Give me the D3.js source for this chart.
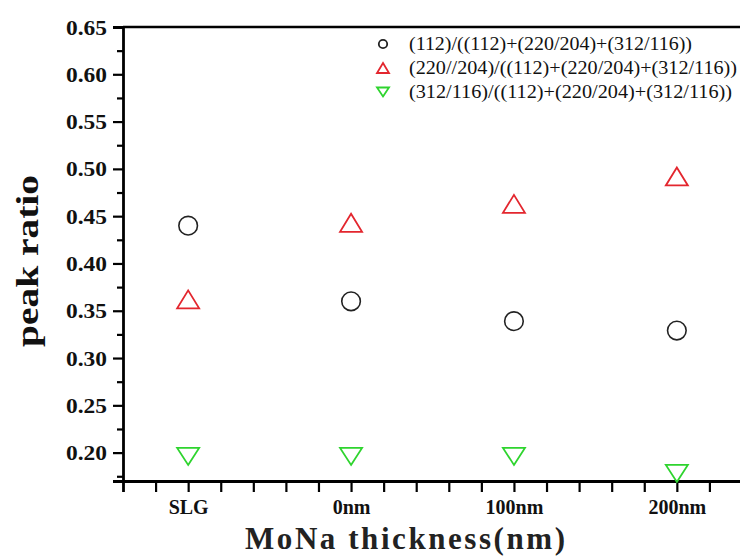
<!DOCTYPE html>
<html>
<head>
<meta charset="utf-8">
<script src="https://cdn.jsdelivr.net/npm/d3@7/dist/d3.min.js"></script>
<style>
html,body{margin:0;padding:0;background:#fff;}
svg{display:block;}
</style>
</head>
<body>
<svg id="chart" width="740" height="560"></svg>
<script>
const categories = ["SLG", "0nm", "100nm", "200nm"];
const ratio112 = [0.440, 0.360, 0.339, 0.329];
const ratio220 = [0.362, 0.443, 0.463, 0.492];
const ratio312 = [0.196, 0.196, 0.196, 0.178];
const legendLabels = [
  "(112)/((112)+(220/204)+(312/116))",
  "(220//204)/((112)+(220/204)+(312/116))",
  "(312/116)/((112)+(220/204)+(312/116))"
];
const yTicks = [0.20, 0.25, 0.30, 0.35, 0.40, 0.45, 0.50, 0.55, 0.60, 0.65];
const yMinorTicks = [0.175, 0.225, 0.275, 0.325, 0.375, 0.425, 0.475, 0.525, 0.575, 0.625];
const xMinorTicks = [0.8, 1.2, 1.4, 1.6, 1.8, 2.2, 2.4, 2.6, 2.8, 3.2, 3.4, 3.6, 3.8, 4.2, 4.4];
const xTitle = "MoNa thickness(nm)";
const yTitle = "peak ratio";

const svg = d3.select("#chart");
const L = 123, R = 742, T = 27, B = 481;
const x = d3.scaleLinear().domain([0.6, 4.4]).range([L, R]);
const y = d3.scaleLinear().domain([0.17, 0.65]).range([B, T]);
const font = "'Liberation Serif','Times New Roman',serif";
const red = "#e3262e", green = "#2ed42e";

// frame top / right
svg.append("line").attr("x1", L).attr("x2", R).attr("y1", T).attr("y2", T)
  .attr("stroke", "#000").attr("stroke-width", 2.5);
svg.append("line").attr("x1", R).attr("x2", R).attr("y1", T).attr("y2", B)
  .attr("stroke", "#000").attr("stroke-width", 2.5);

// y axis
const yAx = svg.append("g").attr("transform", `translate(${L},0)`)
  .call(d3.axisLeft(y).tickValues(yTicks).tickFormat(d3.format(".2f")).tickSize(10).tickPadding(6));
svg.append("g").attr("transform", `translate(${L},0)`)
  .call(d3.axisLeft(y).tickValues(yMinorTicks).tickFormat("").tickSize(6))
  .call(g => g.select(".domain").remove());

// x axis
const catIdx = categories.map((c, i) => i + 1);
const xAx = svg.append("g").attr("transform", `translate(0,${B})`)
  .call(d3.axisBottom(x).tickValues(catIdx).tickFormat(d => categories[d - 1]).tickSize(11).tickPadding(8));
svg.append("g").attr("transform", `translate(0,${B})`)
  .call(d3.axisBottom(x).tickValues(xMinorTicks).tickFormat("").tickSize(11))
  .call(g => g.select(".domain").remove());

svg.selectAll(".domain").attr("stroke-width", 2.8).attr("stroke", "#000");
svg.selectAll(".tick line").attr("stroke-width", 2.2).attr("stroke", "#000");
yAx.selectAll(".tick text").attr("font-family", font).attr("font-weight", "bold")
  .attr("font-size", 22).attr("fill", "#111")
  .attr("textLength", 41).attr("lengthAdjust", "spacingAndGlyphs");
xAx.selectAll(".tick text").attr("font-family", font).attr("font-weight", "bold")
  .attr("font-size", 20).attr("fill", "#111");

// titles
svg.append("text").attr("x", 405).attr("y", 549).attr("text-anchor", "middle")
  .attr("font-family", font).attr("font-weight", "bold").attr("font-size", 31)
  .attr("textLength", 320).attr("lengthAdjust", "spacing").attr("fill", "#222")
  .text(xTitle);
svg.append("text").attr("transform", "translate(38,261) rotate(-90)").attr("text-anchor", "middle")
  .attr("font-family", font).attr("font-weight", "bold").attr("font-size", 32)
  .attr("textLength", 172).attr("lengthAdjust", "spacingAndGlyphs").attr("fill", "#111")
  .text(yTitle);

// markers
const up = (w, h) => `M0,${-h/2}L${w/2},${h/2}L${-w/2},${h/2}Z`;
const down = (w, h) => `M0,${h/2}L${w/2},${-h/2}L${-w/2},${-h/2}Z`;
const plot = svg.append("g");
plot.selectAll(".c112").data(ratio112).join("circle")
  .attr("cx", (d, i) => x(i + 1)).attr("cy", d => y(d)).attr("r", 9.3)
  .attr("fill", "none").attr("stroke", "#222").attr("stroke-width", 1.6);
plot.selectAll(".t220").data(ratio220).join("path")
  .attr("transform", (d, i) => `translate(${x(i + 1)},${y(d)})`).attr("d", up(22, 18))
  .attr("fill", "none").attr("stroke", red).attr("stroke-width", 1.8);
plot.selectAll(".t312").data(ratio312).join("path")
  .attr("transform", (d, i) => `translate(${x(i + 1)},${y(d)})`).attr("d", down(22, 17))
  .attr("fill", "none").attr("stroke", green).attr("stroke-width", 1.8);

// legend
const legY = [44, 68, 92];
const lg = svg.append("g");
lg.append("circle").attr("cx", 383).attr("cy", legY[0]).attr("r", 4.2)
  .attr("fill", "none").attr("stroke", "#222").attr("stroke-width", 1.8);
lg.append("path").attr("transform", `translate(383,${legY[1]})`).attr("d", up(12, 10))
  .attr("fill", "none").attr("stroke", red).attr("stroke-width", 1.8);
lg.append("path").attr("transform", `translate(383,${legY[2]})`).attr("d", down(12, 9))
  .attr("fill", "none").attr("stroke", green).attr("stroke-width", 1.8);
const legLens = [283, 328, 323];
lg.selectAll("text").data(legendLabels).join("text")
  .attr("x", 409).attr("y", (d, i) => legY[i] + 6)
  .attr("font-family", font).attr("font-size", 19).attr("fill", "#111")
  .attr("textLength", (d, i) => legLens[i]).attr("lengthAdjust", "spacingAndGlyphs")
  .text(d => d);
</script>
</body>
</html>
